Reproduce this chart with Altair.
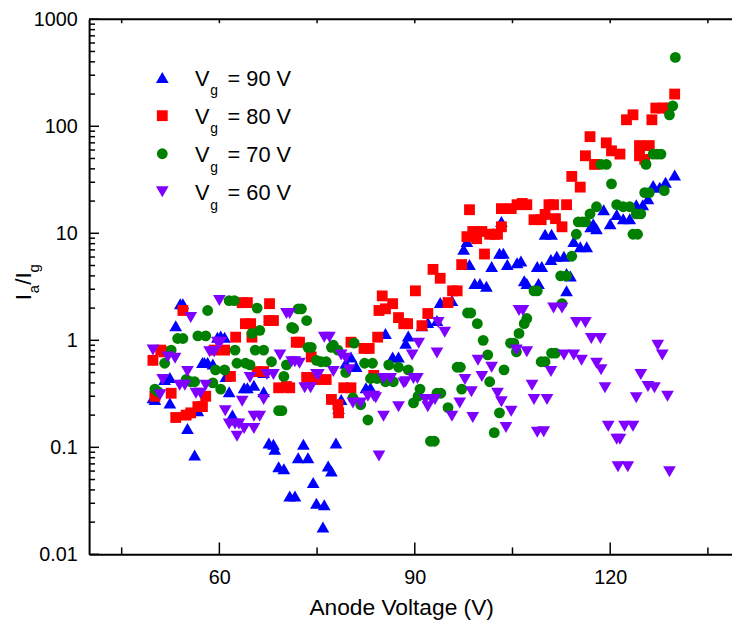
import altair as alt
import pandas as pd

series = ["90", "80", "70", "60"]
colors = ["#0000ff", "#ff0000", "#008000", "#8000ff"]
shapes = ["triangle-up", "square", "circle", "triangle-down"]
sizes = [165, 120, 120, 165]

x90 = [49.8, 50.1, 51.6, 52.4, 52.4, 53.3, 54.0, 54.4, 55.1, 56.2, 56.7, 57.4, 57.7, 58.2, 59.0, 59.7, 60.2, 60.8, 61.0, 61.5, 62.0, 62.3, 63.8, 64.3, 65.3, 66.8, 66.8, 67.6, 68.3, 68.5, 69.1, 69.9, 70.8, 71.6, 72.1, 72.9, 73.6, 74.4, 74.9, 75.9, 76.1, 76.7, 77.2, 77.9, 78.3, 78.7, 79.4, 80.2, 81.0, 82.5, 83.2, 85.5, 86.6, 87.5, 88.6, 89.0, 91.1, 92.0, 93.4, 93.9, 94.6, 95.7, 97.5, 97.7, 98.0, 98.4, 99.2, 100.0, 101.0, 101.8, 103.0, 103.3, 103.6, 104.2, 105.7, 106.3, 106.8, 107.2, 108.8, 109.0, 109.5, 110.0, 110.9, 111.0, 111.8, 112.9, 113.3, 113.3, 113.9, 114.4, 115.4, 116.4, 117.0, 117.4, 117.9, 119.0, 120.0, 121.0, 122.0, 123.0, 124.0, 125.0, 125.8, 126.6, 127.6, 128.5, 129.9]
y90 = [0.29, 0.28, 0.43, 0.45, 0.26, 1.37, 2.2, 2.2, 0.15, 0.085, 0.22, 0.62, 0.62, 0.62, 0.6, 1.07, 1.1, 1.07, 0.46, 0.33, 0.2, 0.18, 0.36, 0.36, 0.38, 0.33, 0.5, 0.11, 0.107, 0.096, 0.066, 0.063, 0.035, 0.035, 0.08, 0.107, 0.08, 0.047, 0.03, 0.018, 0.029, 0.067, 0.06, 0.11, 0.23, 0.28, 0.61, 0.7, 0.57, 0.36, 0.36, 1.16, 0.7, 0.7, 0.94, 1.1, 1.37, 1.47, 1.53, 2.25, 2.25, 2.35, 7.1, 5.1, 8.4, 5.1, 3.4, 3.4, 3.2, 4.9, 6.5, 12.9, 6.5, 5.1, 5.3, 5.5, 3.6, 3.4, 4.9, 3.4, 4.9, 9.8, 5.7, 9.8, 6.1, 6.1, 2.9, 4.2, 4.0, 8.4, 7.5, 7.5, 11.5, 12.3, 11, 16.6, 12.3, 15, 13.7, 13.7, 18.5, 18.5, 21, 28, 27, 30, 35]

x80 = [49.8, 50.1, 51.0, 51.5, 52.6, 53.3, 54.4, 54.9, 55.6, 56.7, 57.4, 57.9, 59.2, 60.8, 61.7, 62.5, 63.5, 64.0, 64.3, 64.8, 65.0, 65.8, 66.8, 67.6, 67.7, 68.3, 69.1, 70.3, 70.8, 71.8, 72.3, 73.4, 73.7, 74.1, 74.4, 75.2, 76.4, 77.2, 78.2, 78.3, 79.1, 80.2, 80.2, 82.2, 83.0, 83.7, 84.3, 84.5, 85.0, 85.5, 86.6, 87.5, 88.3, 88.9, 90.1, 91.1, 92.0, 92.8, 93.9, 95.1, 95.8, 96.5, 97.2, 98.0, 98.4, 98.9, 99.5, 100.3, 100.7, 101.5, 102.2, 102.7, 103.3, 103.3, 104.8, 105.7, 106.5, 107.2, 108.3, 109.4, 110.0, 110.6, 111.3, 111.6, 112.6, 113.3, 114.1, 115.4, 116.2, 116.9, 117.6, 119.4, 120.2, 121.5, 122.5, 123.5, 124.5, 124.5, 125.3, 126.0, 126.4, 127.0, 128.0, 128.9, 129.9]
y80 = [0.65, 0.30, 0.81, 0.78, 0.32, 0.19, 1.9, 0.2, 0.21, 0.24, 0.24, 0.30, 0.81, 0.81, 0.46, 1.07, 2.25, 1.43, 2.25, 1.43, 1.07, 0.51, 0.51, 1.53, 2.2, 1.53, 0.36, 0.37, 0.36, 0.96, 0.96, 0.45, 0.43, 0.70, 0.45, 0.43, 0.43, 0.28, 0.25, 0.21, 0.36, 0.36, 0.96, 0.84, 0.84, 0.47, 1.07, 1.9, 2.6, 1.97, 2.2, 1.63, 1.43, 1.43, 2.9, 1.37, 1.78, 4.6, 3.8, 2.25, 2.9, 2.9, 5.1, 9.3, 16.6, 10.4, 8.9, 10.4, 6.4, 9.8, 9.8, 9.8, 11.5, 17, 17, 18.5, 19, 18.5, 13.4, 13.4, 15, 18.5, 18.5, 13.7, 11.5, 18.5, 34, 27, 53, 80, 44, 70, 59, 55, 115, 128, 66, 53, 49, 66, 115, 148, 148, 148, 200]

x70 = [50.1, 50.6, 51.6, 52.6, 53.6, 54.4, 54.9, 55.6, 56.2, 56.7, 57.9, 58.2, 59.0, 59.4, 60.2, 60.8, 61.5, 62.3, 62.4, 62.7, 64.0, 64.7, 65.0, 65.5, 65.8, 66.2, 66.8, 68.0, 69.1, 69.6, 69.9, 70.3, 71.1, 71.4, 72.1, 72.6, 73.4, 73.6, 74.1, 74.9, 75.6, 76.4, 77.2, 77.5, 78.2, 79.4, 80.5, 80.7, 81.7, 82.3, 82.8, 83.5, 83.2, 84.2, 85.5, 86.0, 86.7, 87.5, 89.0, 89.8, 90.5, 90.8, 92.4, 93.0, 93.4, 94.0, 95.1, 96.5, 97.0, 97.2, 98.1, 98.6, 99.6, 100.5, 101.2, 101.5, 102.2, 103.0, 103.7, 104.7, 105.2, 105.6, 106.0, 106.8, 107.2, 108.3, 108.8, 109.4, 110.0, 111.0, 111.6, 112.4, 112.6, 113.3, 114.1, 114.8, 115.1, 115.7, 116.2, 116.9, 117.9, 118.6, 119.4, 120.2, 121.0, 122.0, 123.0, 123.5, 124.2, 124.0, 124.7, 125.3, 125.5, 126.0, 126.6, 127.2, 127.8, 128.3, 129.1, 129.6, 130.0]
y70 = [0.35, 0.33, 0.61, 0.81, 1.04, 1.04, 0.43, 0.41, 0.41, 1.1, 1.1, 1.9, 0.40, 0.53, 0.35, 0.53, 2.35, 2.35, 0.81, 0.61, 0.61, 0.59, 1.16, 0.81, 2.0, 1.24, 0.81, 0.63, 0.22, 0.22, 0.46, 0.59, 1.32, 1.29, 1.97, 1.97, 1.53, 0.86, 0.86, 0.65, 0.63, 0.63, 0.86, 0.9, 0.81, 0.50, 0.29, 0.94, 0.25, 0.61, 0.18, 0.61, 0.44, 0.44, 0.41, 0.59, 0.41, 0.56, 0.53, 0.26, 0.30, 0.35, 0.114, 0.114, 0.32, 0.32, 0.235, 0.56, 0.56, 0.35, 1.8, 1.8, 1.43, 1.0, 0.73, 0.41, 0.137, 0.21, 0.53, 0.94, 0.94, 0.78, 1.16, 1.43, 1.6, 2.9, 2.9, 0.63, 0.63, 0.76, 0.76, 4.0, 2.2, 4.0, 6.1, 9.8, 12.8, 12.8, 12.8, 15.2, 17.7, 44, 44, 29, 18.5, 17.7, 17.7, 9.8, 9.8, 15.2, 15.2, 24, 44, 24, 55, 55, 55, 25, 128, 155, 440]

x60 = [49.8, 50.9, 51.3, 52.1, 53.2, 53.9, 54.7, 55.1, 55.6, 56.4, 57.1, 57.9, 58.5, 59.2, 59.7, 60.0, 60.2, 60.9, 61.5, 62.4, 62.7, 63.0, 63.5, 63.8, 64.7, 65.3, 65.3, 66.2, 66.8, 67.3, 68.3, 69.3, 70.3, 70.8, 71.1, 71.6, 72.3, 73.1, 74.0, 74.9, 75.2, 76.1, 76.9, 77.5, 78.7, 79.4, 79.9, 80.5, 81.7, 82.8, 83.7, 84.0, 84.5, 85.2, 85.2, 86.3, 87.5, 88.3, 88.6, 89.6, 89.8, 90.6, 90.4, 91.6, 92.0, 92.6, 93.1, 93.4, 93.6, 94.6, 95.7, 96.9, 97.7, 98.7, 98.9, 99.7, 100.3, 101.8, 102.7, 103.3, 104.0, 104.8, 105.6, 106.0, 106.6, 107.2, 108.0, 108.3, 108.8, 109.8, 110.3, 110.9, 111.3, 112.6, 112.9, 114.4, 114.8, 115.6, 116.2, 117.1, 117.9, 118.5, 118.6, 119.2, 119.7, 121.0, 121.2, 121.5, 122.2, 122.7, 123.5, 124.0, 124.7, 125.8, 126.8, 127.3, 128.0, 128.8, 129.1]
y60 = [0.81, 0.31, 0.43, 0.70, 0.68, 0.38, 0.38, 0.51, 1.63, 0.32, 0.32, 0.38, 0.78, 0.78, 0.96, 2.35, 0.96, 0.22, 0.165, 0.165, 0.127, 0.165, 0.27, 0.15, 0.45, 0.15, 0.195, 0.195, 0.28, 0.48, 0.48, 0.73, 1.78, 1.78, 0.63, 0.63, 0.61, 0.36, 0.36, 0.48, 0.48, 1.07, 1.07, 0.51, 0.73, 0.68, 0.53, 0.26, 0.26, 0.30, 0.30, 0.29, 0.083, 0.44, 0.195, 0.44, 0.24, 0.40, 0.41, 0.73, 0.44, 0.94, 0.44, 0.28, 0.24, 0.28, 0.28, 0.76, 1.47, 1.19, 0.195, 0.26, 0.43, 0.33, 0.19, 0.65, 0.46, 0.56, 0.32, 0.267, 0.153, 0.217, 0.81, 1.9, 1.9, 0.78, 0.38, 0.28, 0.138, 0.14, 0.28, 0.51, 2.0, 2.0, 0.73, 0.73, 1.47, 0.65, 1.47, 1.04, 0.61, 1.04, 0.53, 0.36, 0.157, 0.119, 0.066, 0.119, 0.157, 0.066, 0.157, 0.29, 0.48, 0.37, 0.36, 0.90, 0.73, 0.30, 0.059]

x_major = [60, 90, 120]
x_minor = [45, 75, 105, 135]
y_major = [0.01, 0.1, 1, 10, 100, 1000]
y_minor = [m * d for d in [0.01, 0.1, 1, 10, 100] for m in range(2, 10)]

W, H = 650, 541
FONT = "Liberation Sans"

xscale = alt.Scale(domain=[40, 138.7], nice=False, zero=False)
yscale = alt.Scale(type="log", domain=[0.01, 1000], nice=False)

xaxis = alt.Axis(values=x_major, ticks=False, grid=False, title=None,
                 labelFont=FONT, labelFontSize=20, labelColor="black",
                 labelPadding=13, domainColor="black", domainWidth=2, labelFlush=False)
yaxis = alt.Axis(values=y_major, format="~g", ticks=False, grid=False, title=None,
                 labelFont=FONT, labelFontSize=20, labelColor="black",
                 labelPadding=12, domainColor="black", domainWidth=2, labelFlush=False)

X = alt.X("x:Q", scale=xscale, axis=xaxis)
Y = alt.Y("y:Q", scale=yscale, axis=yaxis)

layers = []
for i, (s, xs, ys) in enumerate(zip(series, [x90, x80, x70, x60], [y90, y80, y70, y60])):
    if len(xs) != len(ys):
        raise ValueError(f"length mismatch for {s}: {len(xs)} vs {len(ys)}")
    d = pd.DataFrame({"x": xs, "y": ys})
    layers.append(
        alt.Chart(d).mark_point(filled=True, opacity=1, strokeWidth=0, shape=shapes[i],
                                size=sizes[i], color=colors[i]).encode(x=X, y=Y)
    )

def xrule(vals, y0, y1):
    return alt.Chart(pd.DataFrame({"x": vals})).mark_rule(color="black", strokeWidth=1.5).encode(
        x=X, y=alt.value(y0), y2=alt.value(y1))

def yrule(vals, x0, x1):
    return alt.Chart(pd.DataFrame({"y": vals})).mark_rule(color="black", strokeWidth=1.5).encode(
        y=Y, x=alt.value(x0), x2=alt.value(x1))

layers += [
    xrule(x_major, H, H - 12),
    xrule(x_minor, H, H - 7),
    xrule(x_major + x_minor, 0, 4),
    yrule(y_major, 0, 10),
    yrule(y_minor, 0, 6),
]

layers.append(alt.Chart(pd.DataFrame({"a": [0]})).mark_rule(color="black", strokeWidth=2).encode(
    x=alt.value(0), x2=alt.value(W), y=alt.value(0)))

# legend (drawn by hand to allow subscripts)
row_gap = 38.5
txt_rows = []
for i, s in enumerate(series):
    cy = 59 + i * row_gap
    layers.append(
        alt.Chart(pd.DataFrame({"a": [0]})).mark_point(
            filled=True, opacity=1, strokeWidth=0, shape=shapes[i], size=sizes[i], color=colors[i]
        ).encode(x=alt.value(74), y=alt.value(cy))
    )
    txt_rows.append({"t": "V", "px": 107, "py": cy + 8, "fs": 22, "ang": 0})
    txt_rows.append({"t": "g", "px": 122.5, "py": cy + 18, "fs": 14, "ang": 0})
    txt_rows.append({"t": f"= {s} V", "px": 140, "py": cy + 8, "fs": 22, "ang": 0})

# y title I_a/I_g rotated
txt_rows += [
    {"t": "I", "px": -59, "py": 284, "fs": 23, "ang": 270},
    {"t": "a", "px": -51, "py": 277, "fs": 15, "ang": 270},
    {"t": "/I", "px": -59, "py": 268.5, "fs": 23, "ang": 270},
    {"t": "g", "px": -51, "py": 256, "fs": 15, "ang": 270},
]

layers.append(alt.Chart(pd.DataFrame(txt_rows)).mark_text(
    align="left", baseline="alphabetic", font=FONT, color="black").encode(
    x=alt.X("px:Q", scale=None, axis=None),
    y=alt.Y("py:Q", scale=None, axis=None),
    text="t:N",
    size=alt.Size("fs:Q", scale=None, legend=None),
    angle=alt.Angle("ang:Q", scale=None, legend=None),
))

layers.append(alt.Chart(pd.DataFrame({"t": ["Anode Voltage (V)"]})).mark_text(
    align="center", baseline="alphabetic", font=FONT, fontSize=23, color="black").encode(
    x=alt.value(316), y=alt.value(602), text="t:N"))

chart = alt.layer(*layers).properties(
    width=W, height=H,
    padding={"left": 82, "top": 8, "right": 0, "bottom": 63},
    autosize=alt.AutoSizeParams(type="none"),
    background="white",
).configure_view(stroke=None)

chart.save("out.html", embed_options={"renderer": "svg", "actions": False})
